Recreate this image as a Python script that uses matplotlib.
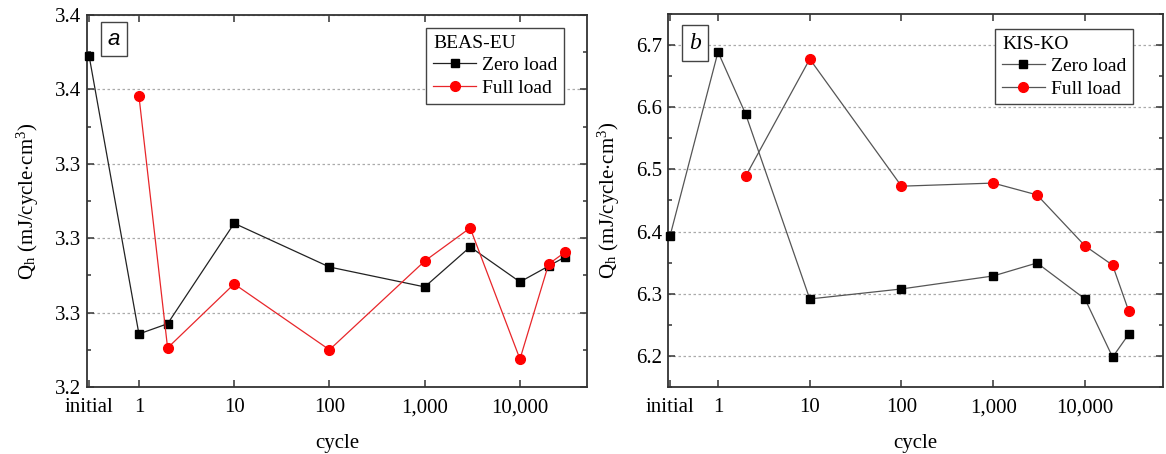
import numpy as np
import matplotlib.pyplot as plt
from matplotlib.ticker import FixedLocator, MultipleLocator, NullLocator

plt.rcParams['font.family'] = 'Liberation Serif'
plt.rcParams['mathtext.fontset'] = 'stix'

# x position used for the "initial" state on the log axis
INIT = 0.3

cycles_zero = [INIT, 1, 2, 10, 100, 1000, 3000, 10000, 20000, 30000]
cycles_full = [1, 2, 10, 100, 1000, 3000, 10000, 20000, 30000]
cycles_full_b = [2, 10, 100, 1000, 3000, 10000, 20000, 30000]

beas_zero = [3.398, 3.2485, 3.254, 3.308, 3.2845, 3.2738, 3.2953, 3.2765, 3.285, 3.290]
beas_full = [3.3765, 3.241, 3.2754, 3.240, 3.2877, 3.3055, 3.235, 3.2861, 3.2926]

kis_zero = [6.393, 6.689, 6.589, 6.2916, 6.3077, 6.3286, 6.3495, 6.2916, 6.198, 6.235]
kis_full = [6.489, 6.6775, 6.473, 6.478, 6.459, 6.377, 6.346, 6.272]

xtick_vals = [INIT, 1, 10, 100, 1000, 10000]
xtick_labels = ['initial', '1', '10', '100', '1,000', '10,000']

fig = plt.figure(figsize=(11.66, 4.54), dpi=100)
ax1 = fig.add_axes([0.0746, 0.1476, 0.4288, 0.8194])
ax2 = fig.add_axes([0.5729, 0.1476, 0.4245, 0.8216])


def style_axes(ax, xmax, ymin, ymax, ystep, yoffset):
    ax.set_xscale('log')
    ax.set_xlim(0.285, xmax)
    ax.set_ylim(ymin, ymax)
    ax.xaxis.set_major_locator(FixedLocator(xtick_vals))
    ax.set_xticklabels(xtick_labels)
    ax.xaxis.set_minor_locator(NullLocator())
    ax.yaxis.set_major_locator(MultipleLocator(ystep, offset=yoffset))
    ax.yaxis.set_minor_locator(MultipleLocator(ystep / 2, offset=yoffset))
    ax.yaxis.set_major_formatter(plt.FormatStrFormatter('%.1f'))
    ax.tick_params(which='both', direction='in', top=True, right=True,
                   labelsize=15, color='#333333')
    ax.tick_params(which='major', length=5, width=1.1)
    ax.tick_params(which='minor', length=3, width=1.1)
    ax.tick_params(axis='x', pad=8)
    ax.tick_params(axis='y', pad=4)
    for s in ax.spines.values():
        s.set_linewidth(1.3)
        s.set_color('#333333')
    ax.yaxis.grid(True, which='major', linestyle=(0, (2, 2)), color='#aaaaaa', linewidth=0.9)
    ax.set_axisbelow(True)
    ax.set_xlabel('cycle', fontsize=15, labelpad=12)
    ax.set_ylabel(r'Q$_\mathregular{h}$ (mJ/cycle$\cdot$cm$^\mathregular{3}$)', fontsize=15, labelpad=10)


def add_legend(ax, title, anchor):
    leg = ax.legend(title=title, loc='upper right', bbox_to_anchor=anchor,
                    borderaxespad=0, fontsize=14, title_fontsize=14, frameon=True,
                    fancybox=False, edgecolor='#444444', handlelength=2.2,
                    handletextpad=0.3, borderpad=0.35, labelspacing=0.25,
                    alignment='left', framealpha=1)
    leg.get_frame().set_linewidth(1)
    return leg


# panel a
style_axes(ax1, 50500, 3.22, 3.42, 0.04, 0.02)
ax1.plot(cycles_zero, beas_zero, color='#222222', lw=0.9, marker='s', ms=6.2,
         mfc='black', mec='black', label='Zero load', clip_on=False, zorder=3)
ax1.plot(cycles_full, beas_full, color='#e8262a', lw=0.9, marker='o', ms=7,
         mfc='red', mec='red', label='Full load', clip_on=False, zorder=3)
ax1.text(0.054, 0.935, 'a', transform=ax1.transAxes, fontsize=16, style='italic',
         family='Liberation Sans', ha='center', va='center',
         bbox=dict(boxstyle='square,pad=0.3', fc='white', ec='#444444', lw=1))
add_legend(ax1, 'BEAS-EU', (0.954, 0.965))

# panel b
style_axes(ax2, 70800, 6.15, 6.75, 0.1, 0.0)
ax2.plot(cycles_zero, kis_zero, color='#555555', lw=0.9, marker='s', ms=6.2,
         mfc='black', mec='black', label='Zero load', clip_on=False, zorder=3)
ax2.plot(cycles_full_b, kis_full, color='#555555', lw=0.9, marker='o', ms=7,
         mfc='red', mec='red', label='Full load', clip_on=False, zorder=3)
ax2.text(0.055, 0.922, 'b', transform=ax2.transAxes, fontsize=17, style='italic',
         ha='center', va='center',
         bbox=dict(boxstyle='square,pad=0.3', fc='white', ec='#444444', lw=1))
add_legend(ax2, 'KIS-KO', (0.939, 0.960))

fig.savefig('out.png', dpi=100)
